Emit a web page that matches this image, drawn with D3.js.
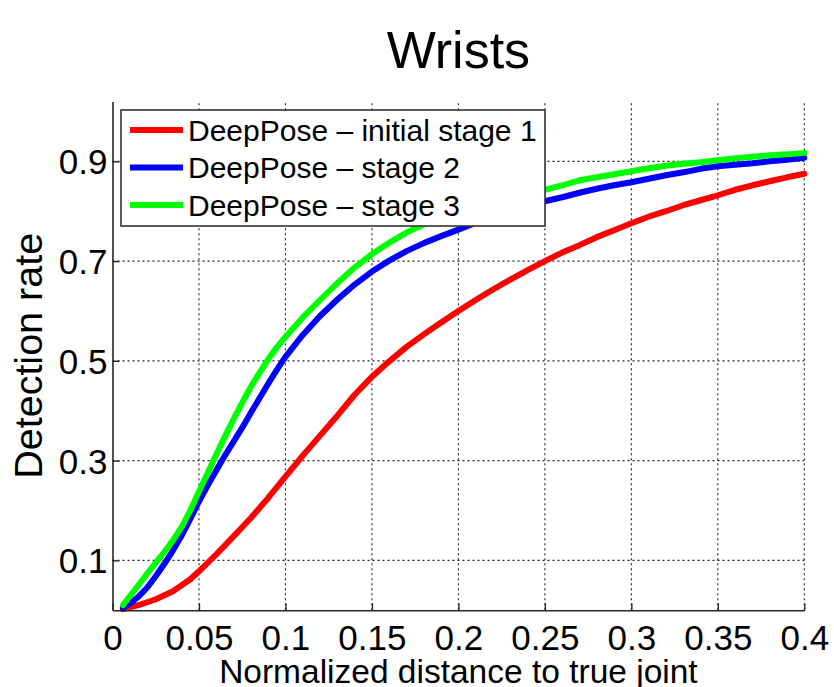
<!DOCTYPE html>
<html>
<head>
<meta charset="utf-8">
<script src="https://cdn.jsdelivr.net/npm/d3@7"></script>
<style>
  body { margin: 0; background: #fff; }
  text { font-family: "Liberation Sans", Arial, Helvetica, sans-serif; fill: #000; }
</style>
</head>
<body>
<script>
// curves (x = normalized distance, y = detection rate)
let xStage1 = [0.006, 0.015, 0.025, 0.035, 0.045, 0.05, 0.06, 0.07, 0.08, 0.09, 0.1, 0.11, 0.12, 0.13, 0.14, 0.15, 0.16, 0.17, 0.18, 0.19, 0.2, 0.21, 0.22, 0.23, 0.24, 0.25, 0.26, 0.27, 0.28, 0.29, 0.3, 0.31, 0.32, 0.33, 0.34, 0.35, 0.36, 0.37, 0.38, 0.39, 0.4];
let yStage1 = [0.002, 0.01, 0.022, 0.038, 0.062, 0.078, 0.112, 0.148, 0.185, 0.225, 0.268, 0.31, 0.35, 0.39, 0.432, 0.468, 0.499, 0.528, 0.553, 0.577, 0.6, 0.622, 0.643, 0.663, 0.682, 0.7, 0.717, 0.732, 0.748, 0.762, 0.776, 0.789, 0.8, 0.812, 0.822, 0.832, 0.843, 0.852, 0.86, 0.868, 0.875];

let xStage23 = [0.006, 0.01, 0.015, 0.02, 0.025, 0.03, 0.035, 0.04, 0.045, 0.05, 0.055, 0.06, 0.065, 0.07, 0.075, 0.08, 0.085, 0.09, 0.095, 0.1, 0.11, 0.12, 0.13, 0.14, 0.15, 0.16, 0.17, 0.18, 0.19, 0.2, 0.21, 0.22, 0.23, 0.24, 0.25, 0.26, 0.27, 0.28, 0.29, 0.3, 0.31, 0.32, 0.33, 0.34, 0.35, 0.36, 0.37, 0.38, 0.39, 0.4];
let yStage2 = [0.005, 0.013, 0.027, 0.045, 0.068, 0.093, 0.12, 0.15, 0.183, 0.218, 0.25, 0.28, 0.31, 0.338, 0.366, 0.396, 0.425, 0.454, 0.482, 0.508, 0.552, 0.59, 0.623, 0.653, 0.679, 0.701, 0.72, 0.736, 0.75, 0.763, 0.777, 0.791, 0.802, 0.811, 0.82, 0.828, 0.837, 0.845, 0.852, 0.858, 0.865, 0.872, 0.878, 0.885, 0.89, 0.893, 0.896, 0.9, 0.903, 0.907];
let yStage3 = [0.01, 0.028, 0.05, 0.073, 0.095, 0.117, 0.14, 0.167, 0.2, 0.238, 0.275, 0.312, 0.348, 0.383, 0.416, 0.448, 0.476, 0.503, 0.527, 0.548, 0.587, 0.622, 0.656, 0.687, 0.714, 0.737, 0.757, 0.774, 0.789, 0.801, 0.812, 0.822, 0.83, 0.837, 0.843, 0.852, 0.862, 0.868, 0.874, 0.88, 0.886, 0.891, 0.895, 0.898, 0.902, 0.906, 0.909, 0.912, 0.914, 0.917];

let seriesNames = ["DeepPose \u2013 initial stage 1", "DeepPose \u2013 stage 2", "DeepPose \u2013 stage 3"];
let seriesColors = ["#ff0000", "#0000ff", "#00ff00"];

let xTicks = [0, 0.05, 0.1, 0.15, 0.2, 0.25, 0.3, 0.35, 0.4];
let yTicks = [0.1, 0.3, 0.5, 0.7, 0.9];

let width = 834, height = 687;
let plotLeft = 112.5, plotRight = 804.3, plotTop = 101.5, plotBottom = 610.2;

let svg = d3.select("body").append("svg")
    .attr("width", width)
    .attr("height", height);

let x = d3.scaleLinear().domain([0, 0.4]).range([plotLeft, plotRight]);
let y = d3.scaleLinear().domain([0, 1.02]).range([plotBottom, plotTop]);

// dotted grid
let grid = svg.append("g").attr("stroke", "#222").attr("stroke-width", 1.1).attr("stroke-dasharray", "2,3");
grid.selectAll(".vg").data(xTicks.slice(1)).join("line")
    .attr("x1", d => x(d)).attr("x2", d => x(d))
    .attr("y1", plotBottom).attr("y2", plotTop);
grid.selectAll(".hg").data(yTicks).join("line")
    .attr("x1", plotLeft).attr("x2", plotRight)
    .attr("y1", d => y(d)).attr("y2", d => y(d));

// the three curves
let curves = [
  xStage1.map((v, i) => [v, yStage1[i]]),
  xStage23.map((v, i) => [v, yStage2[i]]),
  xStage23.map((v, i) => [v, yStage3[i]])
];
let line = d3.line().x(d => x(d[0])).y(d => y(d[1]));
svg.append("g").selectAll("path").data(curves).join("path")
    .attr("fill", "none")
    .attr("stroke", (d, i) => seriesColors[i])
    .attr("stroke-width", 6)
    .attr("stroke-linejoin", "round")
    .attr("stroke-linecap", "round")
    .attr("d", line);

// axes
let xAxis = d3.axisBottom(x).tickValues(xTicks).tickSizeInner(-7).tickSizeOuter(0).tickPadding(15)
    .tickFormat(d => String(+d.toFixed(2)));
let xg = svg.append("g").attr("transform", "translate(0," + plotBottom + ")").call(xAxis);

let yAxis = d3.axisLeft(y).tickValues(yTicks).tickSizeInner(-7).tickSizeOuter(0).tickPadding(5)
    .tickFormat(d3.format(".1f"));
let yg = svg.append("g").attr("transform", "translate(" + plotLeft + ",0)").call(yAxis);

[xg, yg].forEach(g => {
  g.select(".domain").attr("stroke", "#262626").attr("stroke-width", 1.6);
  g.selectAll(".tick line").attr("stroke", "#262626").attr("stroke-width", 1.4);
  g.selectAll(".tick text").attr("font-size", 35).attr("fill", "#000")
      .style("font-family", "'Liberation Sans', Arial, sans-serif");
});
yg.selectAll(".tick text").attr("dy", "0.36em");

// titles
svg.append("text")
    .attr("x", (plotLeft + plotRight) / 2).attr("y", 68)
    .attr("text-anchor", "middle")
    .attr("font-size", 52)
    .text("Wrists");

svg.append("text")
    .attr("x", (plotLeft + plotRight) / 2).attr("y", 683)
    .attr("text-anchor", "middle")
    .attr("font-size", 33.5)
    .text("Normalized distance to true joint");

svg.append("text")
    .attr("transform", "translate(42," + (plotTop + plotBottom) / 2 + ") rotate(-90)")
    .attr("text-anchor", "middle")
    .attr("font-size", 39.5)
    .text("Detection rate");

// legend
let legend = svg.append("g");
legend.append("rect")
    .attr("x", 121).attr("y", 110).attr("width", 424).attr("height", 116)
    .attr("fill", "#fff").attr("stroke", "#333").attr("stroke-width", 1.6);
let rows = legend.selectAll(".row").data(seriesNames).join("g")
    .attr("transform", (d, i) => "translate(0," + (130 + i * 37.5) + ")");
rows.append("line")
    .attr("x1", 130).attr("x2", 183)
    .attr("stroke", (d, i) => seriesColors[i])
    .attr("stroke-width", 6);
rows.append("text")
    .attr("x", 188).attr("dy", "0.36em")
    .attr("font-size", 30)
    .text(d => d);
</script>
</body>
</html>
